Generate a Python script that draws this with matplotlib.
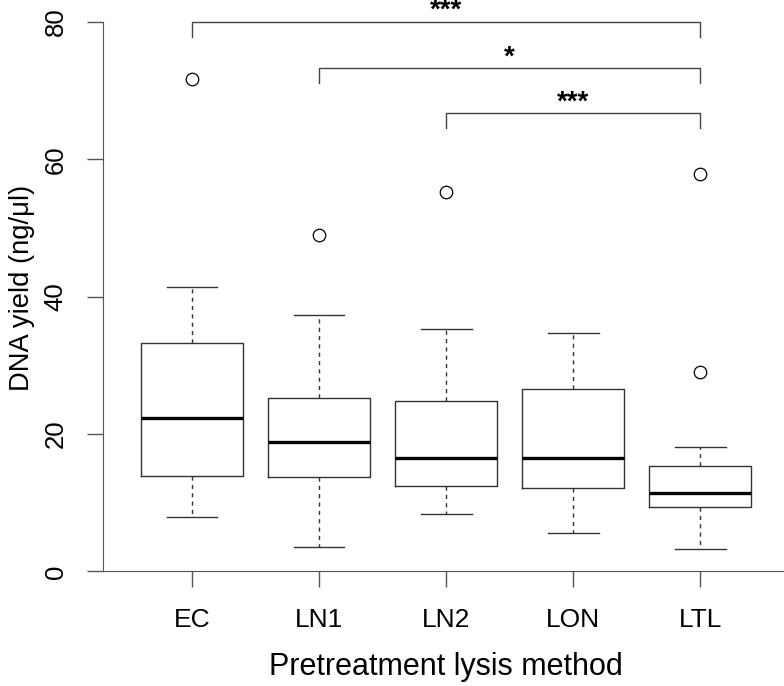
import matplotlib
matplotlib.use('Agg')
import matplotlib.pyplot as plt

plt.rcParams['font.family'] = ['Liberation Sans', 'DejaVu Sans']

# box statistics (ng/ul)
groups = ['EC', 'LN1', 'LN2', 'LON', 'LTL']
whislo = [7.9, 3.5, 8.4, 5.6, 3.3]
q1 = [13.9, 13.7, 12.4, 12.2, 9.4]
med = [22.3, 18.9, 16.5, 16.45, 11.4]
q3 = [33.2, 25.3, 24.8, 26.5, 15.4]
whishi = [41.4, 37.3, 35.3, 34.7, 18.1]
fliers = [[71.7], [49.0], [55.3], [], [29.0, 57.9]]

# significance brackets: (group a, group b, label, bracket height)
comparisons = [(1, 5, '***', 80.0), (2, 5, '*', 73.25), (3, 5, '***', 66.7)]

W, H = 784, 686
fig = plt.figure(figsize=(W / 100, H / 100), dpi=100)
ax = fig.add_axes([103 / W, (H - 593.3) / H, 681 / W, 593.3 / H])

stats = []
for i, g in enumerate(groups):
    stats.append(dict(label=g, whislo=whislo[i], q1=q1[i], med=med[i],
                      q3=q3[i], whishi=whishi[i], fliers=fliers[i]))

line_col = '#333333'
ax.bxp(stats, positions=range(1, len(groups) + 1), widths=0.8,
       boxprops=dict(color=line_col, linewidth=1.0),
       medianprops=dict(color='black', linewidth=2.4),
       whiskerprops=dict(color=line_col, linewidth=1.0, linestyle=(0, (3, 3))),
       capprops=dict(color=line_col, linewidth=1.0),
       flierprops=dict(marker='o', markerfacecolor='none', markeredgecolor='black',
                       markersize=9, markeredgewidth=0.9),
       capwidths=0.4)

ax.set_xlim(0.3, 0.3 + 681 / 127.08)
ax.set_ylim(-3.2, 83.2)

for a, b, lab, h in comparisons:
    ax.plot([a, a, b, b], [h - 2.2, h, h, h - 2.2], color='#444444', linewidth=1.0,
            clip_on=False)
    ax.text((a + b) / 2, h + 0.6, lab, ha='center', va='baseline', fontsize=20,
            fontweight='bold')

axis_col = '#555555'
ax.spines['top'].set_visible(False)
ax.spines['right'].set_visible(False)
ax.spines['left'].set_bounds(0, 80)
ax.spines['left'].set_color(axis_col)
ax.spines['bottom'].set_position(('data', 0))
ax.spines['bottom'].set_color(axis_col)

ax.set_yticks([0, 20, 40, 60, 80])
ax.set_xticks(range(1, len(groups) + 1))
ax.set_xticklabels(groups)
ax.tick_params(axis='y', length=11.5, width=1.0, color=axis_col, pad=14,
               labelsize=18.5, labelrotation=90)
ax.tick_params(axis='x', length=11.5, width=1.0, color=axis_col, pad=15,
               labelsize=19)
for t in ax.get_yticklabels():
    t.set_va('center')

fig.text(22 / W, 1 - 288 / H, 'DNA yield (ng/\u03bcl)', rotation=90,
         ha='center', va='center', fontsize=19.7)
fig.text(446 / W, 1 - 675 / H, 'Pretreatment lysis method', ha='center',
         va='baseline', fontsize=22)

fig.savefig('out.png', dpi=100)
